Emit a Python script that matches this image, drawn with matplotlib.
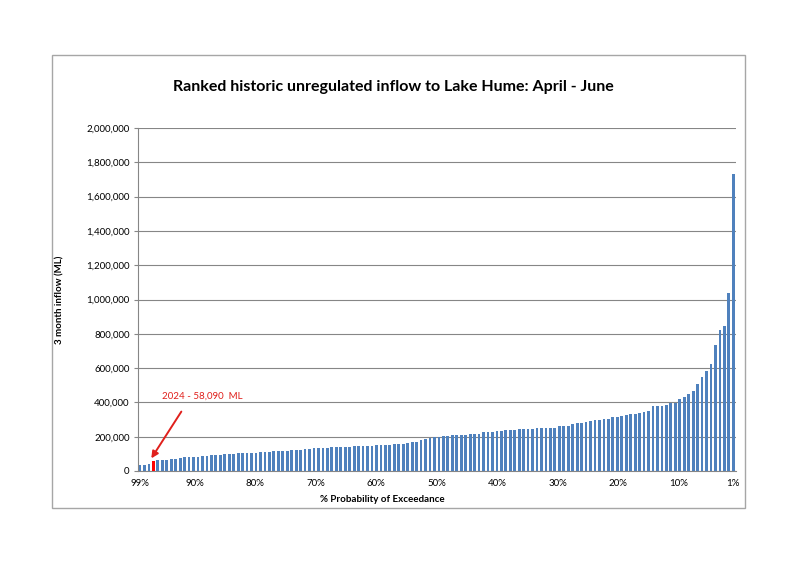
import matplotlib
matplotlib.use("Agg")
import matplotlib.pyplot as plt
from matplotlib.patches import Rectangle
from matplotlib.ticker import FuncFormatter

# ranked April-June inflows (ML), lowest to highest
inflow_ml = [
    34000, 37000, 39000, 58090, 63000, 65000, 66000, 68000, 70000, 76000,
    82000, 83000, 84000, 84000, 85000, 86000, 95000, 96000, 96000, 97000,
    97000, 98000, 104000, 105000, 106000, 106000, 107000, 108000, 112000, 113000,
    114000, 114000, 118000, 119000, 120000, 121000, 122000, 127000, 130000, 133000,
    135000, 136000, 137000, 138000, 139000, 140000, 141000, 142000, 143000, 144000,
    145000, 147000, 148000, 150000, 152000, 153000, 154000, 156000, 157000, 158000,
    162000, 167000, 172000, 178000, 185000, 195000, 198000, 200000, 202000, 205000,
    207000, 209000, 210000, 212000, 214000, 216000, 218000, 225000, 228000, 230000,
    232000, 235000, 238000, 239000, 240000, 242000, 243000, 246000, 247000, 248000,
    249000, 249000, 249000, 252000, 262000, 262000, 262000, 274000, 278000, 278000,
    287000, 289000, 297000, 297000, 301000, 301000, 313000, 315000, 320000, 326000,
    332000, 334000, 336000, 346000, 350000, 379000, 379000, 379000, 383000, 394000,
    398000, 419000, 429000, 449000, 466000, 505000, 550000, 584000, 621000, 732000,
    821000, 845000, 1039000, 1730000,
]
highlight_index = 3  # 2024
highlight_label = "2024 - 58,090  ML"

tick_pct = [99, 90, 80, 70, 60, 50, 40, 30, 20, 10, 1]
tick_labels = ["99%", "90%", "80%", "70%", "60%", "50%", "40%", "30%", "20%", "10%", "1%"]

n = len(inflow_ml)
exceed_pct = [99 - 98 * i / (n - 1) for i in range(n)]
colors = ["#FF0000" if i == highlight_index else "#4F81BD" for i in range(n)]

plt.rcParams["font.family"] = ["Lato", "DejaVu Sans"]

fig = plt.figure(figsize=(8, 5.66), dpi=100)
fig.patches.append(Rectangle((52 / 800, 1 - 508 / 566), 693 / 800, 453 / 566,
                             transform=fig.transFigure, fill=False,
                             edgecolor="#A6A6A6", linewidth=1.0))

ax = fig.add_axes([138 / 800, 1 - 471 / 566, 598 / 800, 343 / 566])
step = 98 / (n - 1)
ax.bar(exceed_pct, inflow_ml, width=step * 0.62, color=colors, zorder=3)

ax.set_xlim(99 + step * 0.45, 1 - step * 0.6)
ax.set_ylim(0, 2000000)
ax.set_yticks(range(0, 2000001, 200000))
ax.yaxis.set_major_formatter(FuncFormatter(lambda v, _: f"{int(v):,}"))
ax.set_xticks(tick_pct)
ax.set_xticklabels(tick_labels)
ax.tick_params(axis="x", length=0, labelsize=7, pad=6)
ax.tick_params(axis="y", length=3, color="#868686", labelsize=7, pad=3)

ax.grid(axis="y", color="#868686", linewidth=0.8, zorder=0)
for s in ["top", "right"]:
    ax.spines[s].set_visible(False)
for s in ["left", "bottom"]:
    ax.spines[s].set_color("#868686")
    ax.spines[s].set_linewidth(0.8)

fig.text(393 / 800, 1 - 87 / 566, "Ranked historic unregulated inflow to Lake Hume: April - June",
         ha="center", va="center", fontsize=11.5, fontweight="bold")
fig.text(60 / 800, 1 - 300 / 566, "3 month inflow (ML)", rotation=90,
         ha="center", va="center", fontsize=7, fontweight="bold")
fig.text(382 / 800, 1 - 500 / 566, "% Probability of Exceedance",
         ha="center", va="center", fontsize=7, fontweight="bold")

hx = exceed_pct[highlight_index]
ax.annotate("", xy=(hx + step * 0.8, inflow_ml[highlight_index] + 2000),
            xytext=(hx - step * 6.6, 360000),
            arrowprops=dict(arrowstyle="-|>", color="#E0201C", lw=1.4,
                            mutation_scale=10), zorder=5)
ax.text(hx - step * 1.9, 437000, highlight_label, color="#E0201C",
        fontsize=7, ha="left", va="center", zorder=5)

fig.savefig("out.png", dpi=100)
